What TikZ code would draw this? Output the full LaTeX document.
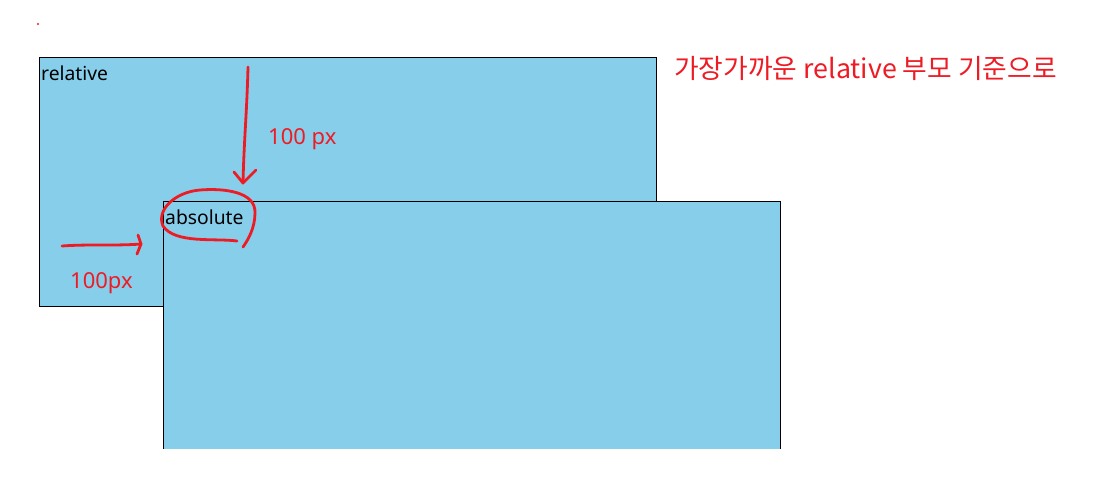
\documentclass[tikz,border=0pt]{standalone}
\usepackage{fontspec}
\setmainfont{Noto Sans}
\newfontfamily\kr{Noto Sans CJK KR}
\definecolor{sky}{HTML}{87CEEB}
\definecolor{pen}{HTML}{ED1C24}
\tikzset{
  boxfill/.style={fill=sky},
  boxline/.style={draw=black, line width=1pt},
  lbl/.style={anchor=base west, inner sep=0pt, font=\fontsize{19.3}{22}\selectfont},
  ink/.style={draw=pen, line width=2.8pt, line cap=round, line join=round},
  inktext/.style={text=pen, inner sep=0pt, font=\fontsize{22}{26}\selectfont},
}
\begin{document}
\begin{tikzpicture}[x=1pt,y=-1pt]
\useasboundingbox (0,0) rectangle (1100,489);
% relative box
\fill[boxfill] (39,58) rectangle (656,306);
\draw[boxline] (39,58) rectangle (656,306);
\node[lbl] (rel) at (41,81) {relative};
% absolute box
\fill[boxfill] (163,202) rectangle (780,449);
\draw[boxline] (163,449) -- (163,202) -- (780,202) -- (780,449);
\node[lbl] (abs) at (165,225) {absolute};
% small dot
\fill[pen] (38,24) circle (1.2);
% vertical arrow
\coordinate (vtop) at (248,67);
\coordinate (vend) at (243,183);
\draw[ink] (vtop) .. controls (247,110) and (244,140) .. (vend);
\draw[ink] (234,172) -- (vend) -- (256,170);
\node[inktext, anchor=west] (v100) at (268,139) {100 px};
% horizontal arrow
\coordinate (hstart) at (62,246);
\coordinate (hend) at (141,244);
\draw[ink] (hstart) .. controls (90,244) and (115,246) .. (hend);
\draw[ink] (138,235) -- (hend) -- (137,254);
\node[inktext, anchor=west] (h100) at (70,283) {100px};
% circle around absolute
\coordinate (cstart) at (237,241);
\draw[ink] (cstart) .. controls (215,238) and (175,244) .. (163,226)
  .. controls (156,210) and (175,192) .. (200,190)
  .. controls (225,188) and (256,192) .. (255,213)
  .. controls (255,228) and (248,240) .. (243,247);
% note
\node[inktext, anchor=west, font=\kr\fontsize{26.8}{30}\selectfont] (note) at (674,68) {가장가까운 relative 부모 기준으로};
\end{tikzpicture}
\end{document}
